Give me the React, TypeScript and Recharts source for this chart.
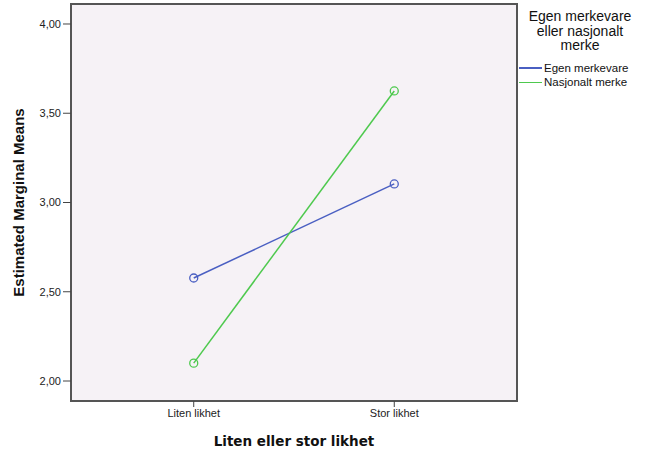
import React from "react";
import { LineChart, Line, XAxis, YAxis, ReferenceArea } from "recharts";

const categories = ["Liten likhet", "Stor likhet"];
const egenMerkevare = [2.577, 3.104];
const nasjonaltMerke = [2.1, 3.625];
const yTicks = [2.0, 2.5, 3.0, 3.5, 4.0];

const data = categories.map((name, i) => ({
  x: i,
  name,
  egen: egenMerkevare[i],
  nasjonalt: nasjonaltMerke[i],
}));

const FONT = '"Liberation Sans", Arial, sans-serif';
const BLUE = "#4a5fc2";
const GREEN = "#4ec94e";

function fmt(v: number) {
  return v.toFixed(2).replace(".", ",");
}

function LegendBox() {
  const items = [
    { label: "Egen merkevare", color: BLUE },
    { label: "Nasjonalt merke", color: GREEN },
  ];
  return (
    <div
      style={{
        position: "absolute",
        left: 519,
        top: 9,
        width: 122,
        fontFamily: FONT,
        color: "#111",
      }}
    >
      <div style={{ textAlign: "center", fontSize: 14, lineHeight: "14.5px" }}>
        Egen merkevare
        <br />
        eller nasjonalt
        <br />
        merke
      </div>
      <div style={{ marginTop: 8 }}>
        {items.map((it) => (
          <div
            key={it.label}
            style={{ display: "flex", alignItems: "center", height: 14.5, fontSize: 11.5 }}
          >
            <span
              style={{
                display: "inline-block",
                width: 23,
                height: 1.5,
                background: it.color,
                marginRight: 2,
              }}
            />
            {it.label}
          </div>
        ))}
      </div>
    </div>
  );
}

export default function App() {
  return (
    <div style={{ position: "absolute", left: 0, top: 0, width: 648, height: 454, background: "#fff" }}>
      <LineChart
        width={648}
        height={454}
        data={data}
        margin={{ top: 4, right: 131, left: 11, bottom: 0 }}
      >
        <ReferenceArea
          x1={-0.612}
          x2={1.612}
          y1={1.888}
          y2={4.112}
          fill="#f6f2f6"
          fillOpacity={1}
          stroke="#555"
          strokeWidth={2}
          ifOverflow="visible"
        />
        <XAxis
          dataKey="x"
          type="number"
          domain={[-0.612, 1.612]}
          ticks={[0, 1]}
          tickFormatter={(v: number) => categories[v]}
          height={53}
          tickSize={6}
          axisLine={false}
          tickLine={{ stroke: "#444" }}
          tick={{ fontSize: 11, fill: "#222", fontFamily: FONT }}
          label={{
            value: "Liten eller stor likhet",
            position: "insideBottom",
            offset: 8,
            style: {
              fontSize: 13.5,
              fontWeight: "bold",
              fill: "#111",
              fontFamily: '"DejaVu Sans", sans-serif',
            },
          }}
        />
        <YAxis
          type="number"
          domain={[1.888, 4.112]}
          ticks={yTicks}
          tickFormatter={fmt}
          width={60}
          tickSize={8}
          axisLine={false}
          tickLine={{ stroke: "#444" }}
          tick={{ fontSize: 11, fill: "#222", fontFamily: FONT }}
          label={{
            value: "Estimated Marginal Means",
            angle: -90,
            position: "insideLeft",
            offset: 8,
            style: {
              fontSize: 15,
              fontWeight: "bold",
              fill: "#111",
              fontFamily: FONT,
              textAnchor: "middle",
            },
          }}
        />
        <Line
          dataKey="egen"
          stroke={BLUE}
          strokeWidth={1.5}
          dot={{ r: 4, stroke: BLUE, strokeWidth: 1.3, fill: "none" }}
          activeDot={false}
          isAnimationActive={false}
        />
        <Line
          dataKey="nasjonalt"
          stroke={GREEN}
          strokeWidth={1.5}
          dot={{ r: 4, stroke: GREEN, strokeWidth: 1.3, fill: "none" }}
          activeDot={false}
          isAnimationActive={false}
        />
      </LineChart>
      <LegendBox />
    </div>
  );
}
